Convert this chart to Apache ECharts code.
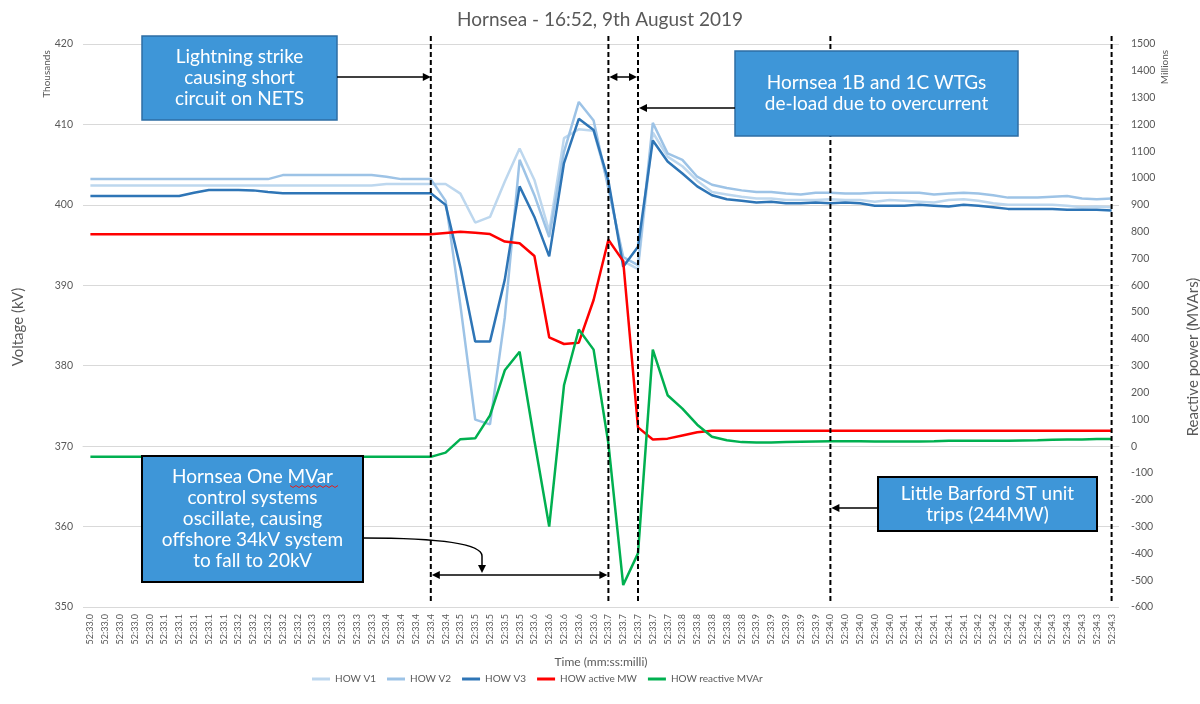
<!DOCTYPE html>
<html>
<head>
<meta charset="utf-8">
<script src="https://cdn.jsdelivr.net/npm/echarts@6.0.0/dist/echarts.min.js"></script>
<style>
  html, body { margin: 0; padding: 0; background: #fff; }
  #main { width: 1200px; height: 704px; }
</style>
</head>
<body>
<div id="main"></div>
<script>
// time labels (mm:ss.0), one per 20ms sample
const timeLabels = [
  '52:33.0','52:33.0','52:33.0','52:33.0','52:33.0',
  '52:33.1','52:33.1','52:33.1','52:33.1','52:33.1',
  '52:33.2','52:33.2','52:33.2','52:33.2','52:33.2',
  '52:33.3','52:33.3','52:33.3','52:33.3','52:33.3',
  '52:33.4','52:33.4','52:33.4','52:33.4','52:33.4',
  '52:33.5','52:33.5','52:33.5','52:33.5','52:33.5',
  '52:33.6','52:33.6','52:33.6','52:33.6','52:33.6',
  '52:33.7','52:33.7','52:33.7','52:33.7','52:33.7',
  '52:33.8','52:33.8','52:33.8','52:33.8','52:33.8',
  '52:33.9','52:33.9','52:33.9','52:33.9','52:33.9',
  '52:34.0','52:34.0','52:34.0','52:34.0','52:34.0',
  '52:34.1','52:34.1','52:34.1','52:34.1','52:34.1',
  '52:34.2','52:34.2','52:34.2','52:34.2','52:34.2',
  '52:34.3','52:34.3','52:34.3','52:34.3','52:34.3'
];

// voltages, kV (left axis)
const howV1 = [
  402.4,402.4,402.4,402.4,402.4,402.4,402.4,402.4,402.4,402.4,
  402.4,402.4,402.4,402.4,402.4,402.4,402.4,402.4,402.4,402.4,
  402.6,402.6,402.6,402.6,402.6,401.4,397.8,398.5,402.9,407.0,
  403.1,396.7,408.3,409.4,409.2,402.5,393.0,392.0,409.0,406.0,
  404.8,403.0,401.6,401.3,401.0,400.8,400.8,400.6,400.6,400.6,
  400.7,400.6,400.6,400.4,400.6,400.5,400.4,400.3,400.6,400.7,
  400.5,400.2,400.0,400.0,400.0,400.0,399.9,399.7,399.8,399.7
];
const howV2 = [
  403.2,403.2,403.2,403.2,403.2,403.2,403.2,403.2,403.2,403.2,
  403.2,403.2,403.2,403.7,403.7,403.7,403.7,403.7,403.7,403.7,
  403.5,403.2,403.2,403.2,400.5,387.5,373.3,372.7,386.0,405.6,
  401.2,396.0,406.6,412.8,410.5,402.0,393.5,392.5,410.2,406.4,
  405.6,403.5,402.5,402.1,401.8,401.6,401.6,401.4,401.3,401.5,
  401.5,401.4,401.4,401.5,401.5,401.5,401.5,401.3,401.4,401.5,
  401.4,401.2,400.9,400.9,400.9,401.0,401.1,400.8,400.7,400.8
];
const howV3 = [
  401.1,401.1,401.1,401.1,401.1,401.1,401.1,401.5,401.85,401.85,
  401.85,401.8,401.6,401.45,401.45,401.45,401.45,401.45,401.45,401.45,
  401.45,401.45,401.45,401.45,400.0,392.2,383.0,383.0,390.7,402.3,
  398.5,393.6,405.2,410.7,409.3,403.0,392.3,394.8,408.0,405.4,
  403.9,402.3,401.2,400.7,400.5,400.3,400.4,400.2,400.2,400.3,
  400.2,400.3,400.2,399.9,399.9,399.9,400.0,399.9,399.8,400.0,
  399.9,399.7,399.5,399.5,399.5,399.5,399.4,399.4,399.4,399.3
];

// power, MW / MVAr (right axis)
const howActiveMW = [
  790,790,790,790,790,790,790,790,790,790,
  790,790,790,790,790,790,790,790,790,790,
  790,790,790,790,795,800,796,791,763,757,
  709,406,381,386,545,770,690,70,25,28,
  40,52,57,57,57,57,57,57,57,57,
  57,57,57,57,57,57,57,57,57,57,
  57,57,57,57,57,57,57,57,57,57
];
const howReactiveMVAr = [
  -40,-40,-40,-40,-40,-40,-40,-40,-40,-40,
  -40,-40,-40,-40,-40,-40,-40,-40,-40,-40,
  -40,-40,-40,-40,-24,26,29,115,283,352,
  20,-300,227,435,360,10,-518,-400,360,190,
  140,80,35,22,15,14,14,15,16,17,
  18,18,18,17,17,17,17,18,20,20,
  20,20,20,21,22,24,25,25,27,27
];

// sample index of each event marker (dashed lines)
const eventIdx = [23, 35, 37, 50, 69];

const grey = '#595959';
const font = 'Lato';

let chart = echarts.init(document.getElementById('main'));

chart.setOption({
  animation: false,
  title: {
    text: 'Hornsea - 16:52, 9th August 2019',
    left: 'center',
    top: 5,
    textStyle: { fontFamily: font, fontSize: 19, fontWeight: 'normal', color: grey }
  },
  legend: {
    left: 312,
    bottom: 20,
    padding: 0,
    icon: 'rect',
    itemWidth: 18,
    itemHeight: 3,
    itemGap: 11,
    textStyle: { fontFamily: font, fontSize: 10, color: grey }
  },
  grid: { left: 83, right: 81, top: 44, bottom: 97 },
  xAxis: {
    type: 'category',
    data: timeLabels,
    boundaryGap: true,
    axisLine: { lineStyle: { color: '#d9d9d9' } },
    axisTick: { show: false },
    axisLabel: { rotate: 90, interval: 0, fontSize: 9, color: grey, fontFamily: font, margin: 7 },
    name: 'Time (mm:ss:milli)',
    nameLocation: 'middle',
    nameGap: 49,
    nameTextStyle: { fontFamily: font, fontSize: 12, color: grey }
  },
  yAxis: [
    {
      type: 'value',
      position: 'left',
      min: 350, max: 420, interval: 10,
      axisLine: { show: false },
      axisTick: { show: false },
      splitLine: { lineStyle: { color: '#d9d9d9' } },
      axisLabel: { fontSize: 10.5, color: grey, fontFamily: font, margin: 10 }
    },
    {
      type: 'value',
      position: 'right',
      min: -600, max: 1500, interval: 100,
      axisLine: { show: false },
      axisTick: { show: false },
      splitLine: { show: false },
      axisLabel: { fontSize: 10.5, color: grey, fontFamily: font, margin: 12, formatter: v => String(v) }
    }
  ],
  series: [
    { name: 'HOW V1', type: 'line', yAxisIndex: 0, data: howV1, symbol: 'none', color: '#bdd7ee', lineStyle: { width: 2.5 } },
    { name: 'HOW V2', type: 'line', yAxisIndex: 0, data: howV2, symbol: 'none', color: '#9dc3e6', lineStyle: { width: 2.5 } },
    { name: 'HOW V3', type: 'line', yAxisIndex: 0, data: howV3, symbol: 'none', color: '#2e75b6', lineStyle: { width: 2.5 } },
    { name: 'HOW active MW', type: 'line', yAxisIndex: 1, data: howActiveMW, symbol: 'none', color: '#ff0000', lineStyle: { width: 2.5 } },
    { name: 'HOW reactive MVAr', type: 'line', yAxisIndex: 1, data: howReactiveMVAr, symbol: 'none', color: '#00b050', lineStyle: { width: 2.5 } }
  ]
});

// annotations: event lines, boxes and arrows
let px = i => chart.convertToPixel({ xAxisIndex: 0 }, i);
let ev = eventIdx.map(px);

function head(x, y, dir) {
  let L = 8, W = 4, pts;
  if (dir === 'right') pts = [[x, y], [x - L, y - W], [x - L, y + W]];
  if (dir === 'left') pts = [[x, y], [x + L, y - W], [x + L, y + W]];
  if (dir === 'down') pts = [[x, y], [x - W, y - L], [x + W, y - L]];
  return { type: 'polygon', shape: { points: pts }, style: { fill: '#000' }, z: 120 };
}
function seg(x1, y1, x2, y2) {
  return { type: 'line', shape: { x1, y1, x2, y2 }, style: { stroke: '#000', lineWidth: 1.5 }, z: 120 };
}
function box(x, y, w, h, border, lines) {
  return [
    { type: 'rect', shape: { x, y, width: w, height: h }, style: { fill: '#3e96d8', stroke: border, lineWidth: border === '#000' ? 2 : 1.5 }, z: 110 },
    { type: 'text', x: x + w / 2, y: y + h / 2, z: 111,
      style: { text: lines.join('\n'), fill: '#fff', fontFamily: font, fontSize: 19, lineHeight: 21, align: 'center', verticalAlign: 'middle' } }
  ];
}

let g = [];
ev.forEach(x => g.push({ type: 'line', shape: { x1: x, y1: 36, x2: x, y2: 603 }, style: { stroke: '#000', lineWidth: 2, lineDash: [5, 3] }, z: 100 }));

// lightning strike
g.push(...box(142, 36, 195, 84, '#2e6da4', ['Lightning strike', 'causing short', 'circuit on NETS']));
g.push(seg(337, 77, ev[0] - 6, 77), head(ev[0], 77, 'right'));

// double arrow between de-load lines
g.push(seg(ev[1] + 6, 77, ev[2] - 6, 77), head(ev[1] + 1, 77, 'left'), head(ev[2] - 1, 77, 'right'));

// WTG de-load
g.push(...box(735, 51, 283, 85, '#2e6da4', ['Hornsea 1B and 1C WTGs', 'de-load due to overcurrent']));
g.push(seg(735, 108, ev[2] + 6, 108), head(ev[2] + 1, 108, 'left'));

// MVar oscillation
g.push(...box(142, 456, 221, 126, '#000', ['Hornsea One MVar', 'control systems', 'oscillate, causing', 'offshore 34kV system', 'to fall to 20kV']));
g.push({ type: 'bezierCurve', shape: { x1: 363, y1: 538, cpx1: 430, cpy1: 538, cpx2: 482, cpy2: 542, x2: 482, y2: 556 },
  style: { stroke: '#000', lineWidth: 1.5, fill: null }, z: 120 });
g.push(seg(482, 556, 482, 566), head(482, 573, 'down'));
g.push(seg(ev[0] + 6, 575, ev[1] - 6, 575), head(ev[0] + 1, 575, 'left'), head(ev[1] - 1, 575, 'right'));

// spell-check squiggle under "MVar"
let sq = [];
for (let k = 0; k <= 16; k++) sq.push([290 + k * 3, 486 + (k % 2 ? 1.5 : -0.5)]);
g.push({ type: 'polyline', shape: { points: sq }, style: { stroke: '#e02020', lineWidth: 1 }, z: 112 });

// Little Barford
g.push(...box(878, 477, 219, 54, '#000', ['Little Barford ST unit', 'trips (244MW)']));
g.push(seg(878, 508, ev[3] + 6, 508), head(ev[3] + 1, 508, 'left'));

// axis titles
function vtext(x, y, text, size) {
  return { type: 'text', x, y, rotation: Math.PI / 2, z: 50,
    style: { text, fill: grey, fontFamily: font, fontSize: size, align: 'center', verticalAlign: 'middle' } };
}
g.push(vtext(47, 74, 'Thousands', 10));
g.push(vtext(1165, 67, 'Millions', 10));
g.push(vtext(18, 327, 'Voltage (kV)', 15));
g.push(vtext(1193, 357, 'Reactive power (MVArs)', 15));

chart.setOption({ graphic: g });
</script>
</body>
</html>
